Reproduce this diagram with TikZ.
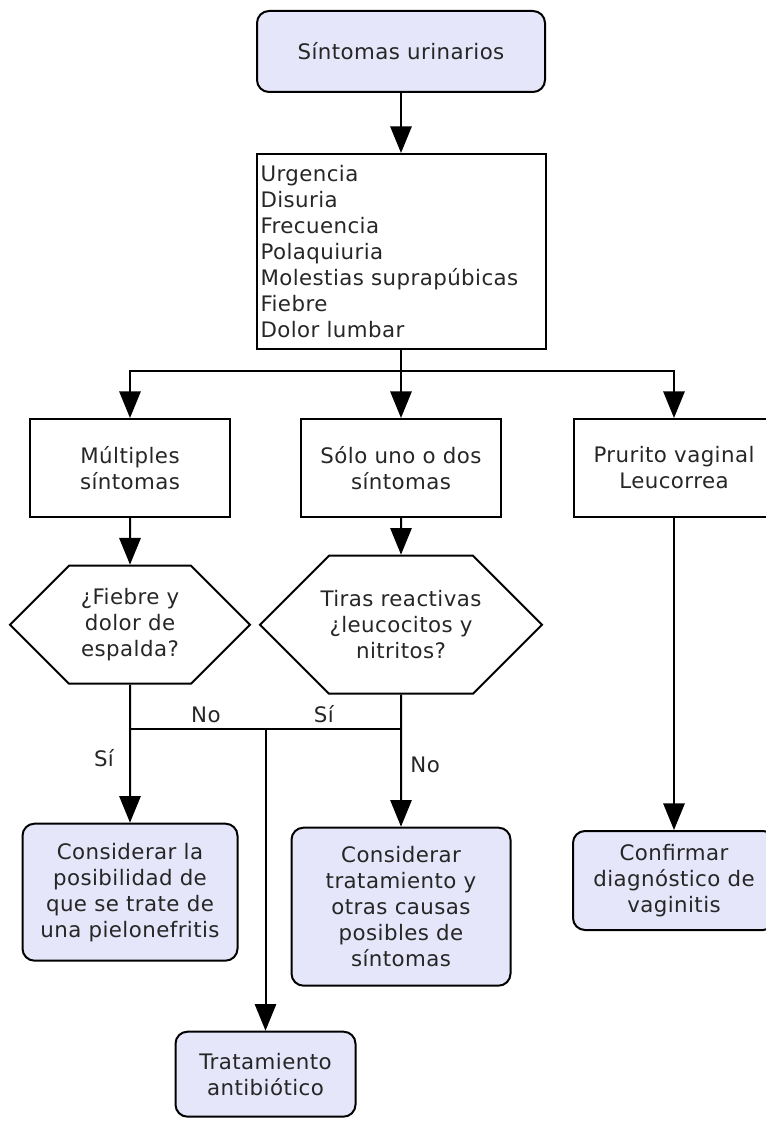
\documentclass[tikz,border=0pt]{standalone}
\usepackage{fontspec}
\setmainfont{DejaVu Sans}[LetterSpace=2]
\usetikzlibrary{calc,positioning,shapes.symbols,arrows.meta}
\definecolor{endfill}{HTML}{E6E6FA}
\definecolor{inktext}{HTML}{262626}
\tikzset{>={Triangle[width=16pt,length=20pt]}}
\tikzset{
  every node/.style={font=\fontsize{16pt}{19.5pt}\selectfont, text=inktext},
  term/.style={draw, rounded corners=9pt, fill=endfill, align=center, inner sep=2pt},
  stepbox/.style={draw, align=center, inner sep=2pt,
    minimum width=150pt, minimum height=73.5pt},
  choice/.style={draw, signal, signal to=west and east,
    signal pointer angle=90, align=center, inner ysep=2pt, inner xsep=-8pt}
}

\begin{document}
\begin{tikzpicture}[x=0.75pt,y=-0.75pt,line width=1.5pt]
      \useasboundingbox (0,0) rectangle (765,1124);

      \node [term,
        minimum width=216pt, minimum height=60.75pt
      ] (urinary) at (401,51.5) {Síntomas urinarios};
      \node [draw,
        align=left, text width=210.75pt, inner xsep=3pt,
        minimum height=146.25pt,
        below=45pt of urinary
      ] (list) {Urgencia\\Disuria\\Frecuencia\\Polaquiuria\\
        Molestias suprapúbicas\\Fiebre\\Dolor lumbar};
      \node [stepbox,
        below=51pt of list
      ] (few) {Sólo uno o dos\\síntomas};
      \node [stepbox,
        left=51.75pt of few
      ] (many) {Múltiples\\síntomas};
      \node [stepbox,
        right=53.25pt of few
      ] (itch) {Prurito vaginal\\Leucorrea};
      \node [choice,
        minimum width=180pt, minimum height=88.5pt,
        below=35pt of many
      ] (fever) {¿Fiebre y\\dolor de\\espalda?};
      \node [choice,
        minimum width=211.5pt, minimum height=103.5pt,
        below=27.5pt of few
      ] (strips) {Tiras reactivas\\¿leucocitos y\\nitritos?};
      \node [term,
        minimum width=161.25pt, minimum height=102.75pt,
        below=103.5pt of fever
      ] (pyelo) {Considerar la\\posibilidad de\\que se trate de\\una pielonefritis};
      \node [term,
        minimum width=164.25pt, minimum height=118.5pt,
        below=99pt of strips
      ] (other) {Considerar\\tratamiento y\\otras causas\\posibles de\\síntomas};
      \node [term,
        minimum width=151.5pt, minimum height=74.25pt,
        below=234pt of itch
      ] (vagin) {Confirmar\\diagnóstico de\\vaginitis};

      \coordinate [below=33pt of fever] (joinL);
      \coordinate [below=15.75pt of list] (split);
      \coordinate (joinR) at (strips.south |- joinL);
      \coordinate (joinT) at ($(joinL)!0.5!(joinR)$);

      \node [term,
        minimum width=135pt, minimum height=63.75pt,
        below=226.5pt of joinT
      ] (antib) {Tratamiento\\antibiótico};

      \draw[->] (urinary) -- (list);
      \draw[->] (list) -- (few);
      \draw[->] (split) -| (many);
      \draw[->] (split) -| (itch);
      \draw[->] (many) -- (fever);
      \draw[->] (few) -- (strips);
      \draw[->] (itch) -- (vagin);
      \draw[->] (fever) -- node[pos=0.53, left=8pt] {Sí} (pyelo);
      \draw[->] (strips) -- node[pos=0.53, right=3pt] {No} (other);
      \draw (joinL) -- node[pos=0.56, above] {No} (joinT)
        -- node[pos=0.43, above] {Sí} (joinR);
      \draw[->] (joinT) -- (antib);
    \end{tikzpicture}
\end{document}
